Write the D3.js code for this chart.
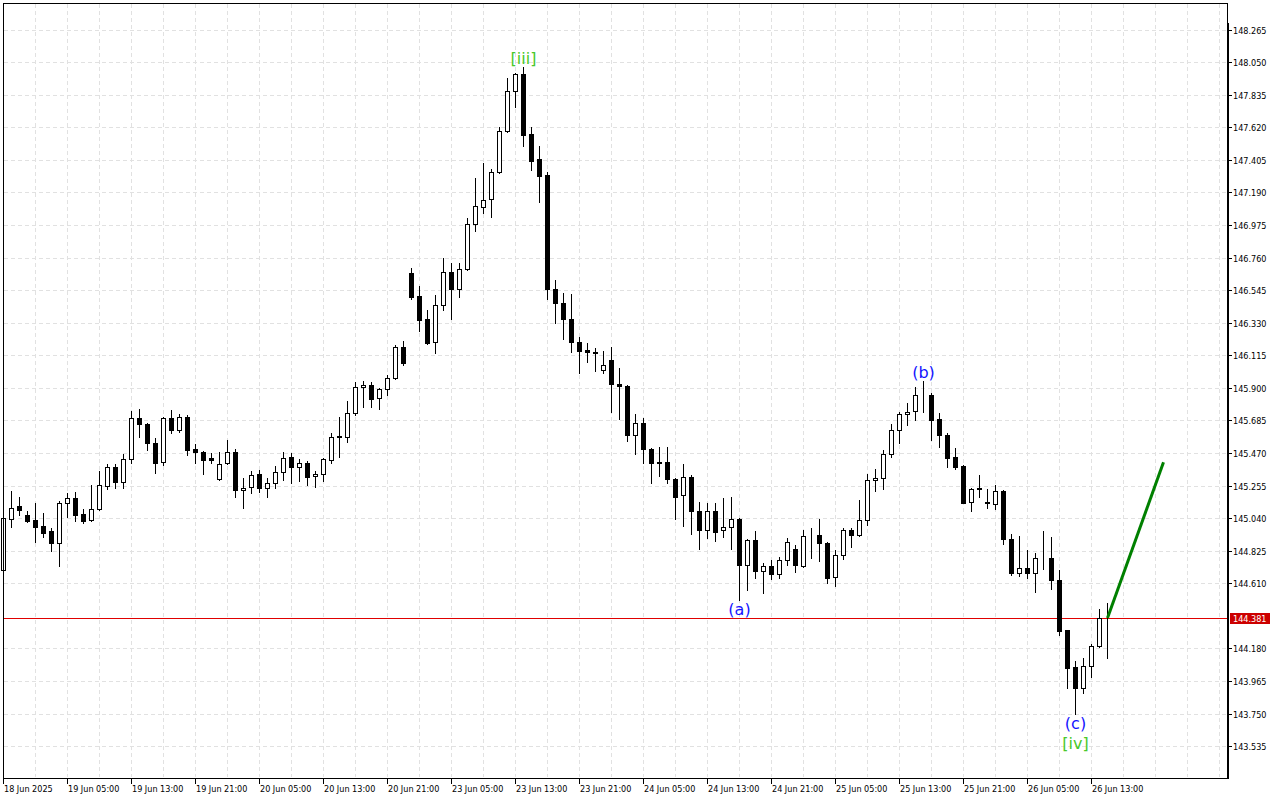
<!DOCTYPE html>
<html>
<head>
<meta charset="utf-8">
<script src="https://cdn.jsdelivr.net/npm/d3@7"></script>
<style>
  body { margin: 0; background: #fff; }
  svg { display: block; }
</style>
</head>
<body>
<script>
// hourly candles, one entry per bar (index 0 = leftmost bar)
var opens = [144.698,145.033,145.118,145.059,145.028,144.988,144.955,144.874,145.138,145.171,
  145.068,145.026,145.099,145.252,145.376,145.277,145.429,145.699,145.662,145.534,
  145.413,145.699,145.624,145.708,145.497,145.477,145.437,145.297,145.402,145.477,
  145.224,145.244,145.330,145.237,145.270,145.343,145.442,145.376,145.404,145.316,
  145.330,145.424,145.578,145.578,145.732,145.904,145.917,145.833,145.891,145.963,
  146.168,146.656,146.506,146.353,146.201,146.445,146.663,146.551,146.687,146.980,
  147.092,147.149,147.323,147.593,147.857,147.970,147.574,147.411,147.305,146.553,
  146.458,146.353,146.201,146.148,146.137,146.016,146.082,145.924,145.910,145.591,
  145.666,145.495,145.411,145.409,145.299,145.191,145.310,145.085,144.962,145.085,
  144.962,144.980,145.033,144.729,144.894,144.693,144.722,144.674,144.762,144.835,
  144.722,144.920,144.931,144.874,144.650,144.795,144.960,144.927,145.026,145.290,
  145.303,145.466,145.620,145.726,145.745,145.853,145.855,145.693,145.589,145.443,
  145.384,145.145,145.237,145.149,145.132,145.219,144.903,144.680,144.709,144.680,
  144.775,144.778,144.632,144.302,144.060,143.917,144.064,144.196,144.379];
var highs = [145.061,145.219,145.180,145.087,145.140,145.074,144.973,145.153,145.204,145.213,
  145.099,145.259,145.351,145.398,145.398,145.464,145.747,145.761,145.670,145.567,
  145.706,145.754,145.726,145.721,145.528,145.483,145.472,145.477,145.556,145.495,
  145.303,145.351,145.358,145.307,145.384,145.477,145.470,145.429,145.419,145.349,
  145.437,145.602,145.710,145.813,145.939,145.943,145.939,145.901,145.985,146.181,
  146.209,146.691,146.572,146.414,146.511,146.757,146.726,146.722,147.019,147.285,
  147.382,147.343,147.620,147.943,147.976,148.016,147.620,147.496,147.323,146.612,
  146.526,146.520,146.234,146.194,146.161,146.143,146.168,146.029,145.921,145.728,
  145.701,145.503,145.508,145.510,145.303,145.398,145.325,145.147,145.138,145.138,
  145.171,145.178,145.040,144.900,144.955,144.742,144.762,144.784,144.907,144.865,
  144.960,144.973,145.033,144.885,144.830,144.977,144.977,145.160,145.332,145.365,
  145.490,145.664,145.743,145.798,145.908,145.943,145.864,145.732,145.600,145.501,
  145.391,145.237,145.325,145.231,145.257,145.225,144.936,144.924,144.830,144.812,
  144.955,144.918,144.698,144.302,144.097,144.115,144.210,144.443,144.482];
var lows = [144.685,144.984,145.063,145.013,144.885,144.918,144.823,144.726,145.050,145.023,
  145.010,145.019,145.094,145.231,145.241,145.241,145.402,145.578,145.490,145.340,
  145.391,145.600,145.611,145.457,145.406,145.332,145.402,145.292,145.398,145.182,
  145.109,145.208,145.213,145.182,145.237,145.292,145.274,145.283,145.257,145.244,
  145.285,145.406,145.442,145.545,145.723,145.776,145.776,145.763,145.851,145.957,
  146.051,146.485,146.277,146.190,146.132,146.414,146.357,146.502,146.680,146.937,
  147.056,147.030,147.316,147.590,147.756,147.496,147.338,147.129,146.485,146.326,
  146.221,146.139,146.000,146.073,146.013,146.000,145.743,145.693,145.551,145.466,
  145.406,145.274,145.320,145.274,145.037,144.988,144.936,144.839,144.907,144.891,
  144.914,144.839,144.500,144.566,144.648,144.548,144.641,144.647,144.729,144.685,
  144.720,144.779,144.759,144.614,144.594,144.773,144.852,144.920,144.997,145.221,
  145.231,145.446,145.538,145.657,145.688,145.743,145.556,145.512,145.380,145.363,
  145.138,145.089,145.182,145.105,145.099,144.868,144.665,144.658,144.647,144.555,
  144.703,144.573,144.269,143.921,143.746,143.888,143.994,144.190,144.119];
var closes = [145.041,145.105,145.096,145.023,144.984,144.944,144.874,145.138,145.171,145.063,
  145.023,145.099,145.259,145.376,145.277,145.429,145.699,145.660,145.534,145.406,
  145.699,145.624,145.706,145.492,145.479,145.426,145.426,145.396,145.475,145.224,
  145.239,145.323,145.237,145.270,145.343,145.435,145.376,145.402,145.314,145.330,
  145.429,145.578,145.582,145.732,145.906,145.917,145.829,145.893,145.963,146.168,
  146.062,146.502,146.348,146.198,146.445,146.663,146.551,146.687,146.980,147.098,
  147.142,147.323,147.593,147.857,147.970,147.571,147.399,147.300,146.551,146.458,
  146.353,146.201,146.145,146.135,146.132,146.049,145.924,145.910,145.591,145.666,
  145.495,145.406,145.406,145.297,145.182,145.310,145.085,144.962,145.085,144.951,
  144.980,145.037,144.729,144.894,144.693,144.722,144.674,144.762,144.881,144.729,
  144.920,144.922,144.874,144.647,144.795,144.960,144.927,145.026,145.290,145.303,
  145.466,145.620,145.728,145.739,145.853,145.855,145.688,145.587,145.439,145.380,
  145.142,145.231,145.231,145.142,145.219,144.903,144.680,144.709,144.680,144.775,
  144.778,144.632,144.297,144.053,143.917,144.064,144.196,144.379,144.381];

var lastPrice = 144.381;

var priceTicks = [148.265,148.050,147.835,147.620,147.405,147.190,146.975,146.760,146.545,146.330,
  146.115,145.900,145.685,145.470,145.255,145.040,144.825,144.610,144.180,143.965,143.750,143.535];

var timeTickBars = [0,8,16,24,32,40,48,56,64,72,80,88,96,104,112,120,128,136];
var timeTickLabels = ["18 Jun 2025","19 Jun 05:00","19 Jun 13:00","19 Jun 21:00","20 Jun 05:00",
  "20 Jun 13:00","20 Jun 21:00","23 Jun 05:00","23 Jun 13:00","23 Jun 21:00","24 Jun 05:00",
  "24 Jun 13:00","24 Jun 21:00","25 Jun 05:00","25 Jun 13:00","25 Jun 21:00","26 Jun 05:00",
  "26 Jun 13:00"];

// wave marks
var waveTexts = ["[iii]", "(a)", "(b)", "(c)", "[iv]"];
var waveBars = [65, 92, 115, 134, 134];
var waveAt = ["high", "low", "high", "low", "low"];

// forecast line
var projBars = [138, 145];
var projPrices = [144.381, 145.409];

var width = 1280, height = 800;
var plotL = 3, plotT = 3, plotR = 1227, plotB = 778;

var svg = d3.select("body").append("svg")
    .attr("width", width)
    .attr("height", height)
    .style("font-family", "'DejaVu Sans Condensed', 'Liberation Sans Narrow', 'DejaVu Sans', sans-serif");

var x = d3.scaleLinear().domain([0, 153]).range([plotL, plotR]);
var y = d3.scaleLinear().domain([143.535, 148.265]).range([746.2, 29.6]);

var px = v => Math.round(v) + 0.5;

svg.append("defs").append("clipPath").attr("id", "plot")
  .append("rect").attr("x", 0).attr("y", plotT).attr("width", plotR).attr("height", plotB - plotT);

//GRID
var grid = svg.append("g")
    .attr("stroke", "#e1e1e1")
    .attr("stroke-dasharray", "4,3");
grid.selectAll("line.h").data(priceTicks).enter().append("line")
    .attr("x1", plotL + 1).attr("x2", plotR - 1)
    .attr("y1", d => px(y(d))).attr("y2", d => px(y(d)));
grid.selectAll("line.v").data(d3.range(4, 153, 4)).enter().append("line")
    .attr("x1", d => px(x(d))).attr("x2", d => px(x(d)))
    .attr("y1", plotT + 1).attr("y2", plotB - 1);

var plot = svg.append("g").attr("clip-path", "url(#plot)");

// current price line
plot.append("line")
    .attr("x1", plotL).attr("x2", plotR)
    .attr("y1", px(y(lastPrice))).attr("y2", px(y(lastPrice)))
    .attr("stroke", "#e00000");

//CANDLES
var idx = d3.range(opens.length);
plot.append("g").selectAll("line").data(idx).enter().append("line")
    .attr("x1", i => x(i) + 0.5).attr("x2", i => x(i) + 0.5)
    .attr("y1", i => Math.round(y(highs[i])))
    .attr("y2", i => Math.round(y(lows[i])) + 1)
    .attr("stroke", "#000");

plot.append("g").selectAll("rect").data(idx).enter().append("rect")
    .each(function(i) {
      var top = Math.round(y(Math.max(opens[i], closes[i])));
      var bot = Math.round(y(Math.min(opens[i], closes[i])));
      var r = d3.select(this);
      if (closes[i] >= opens[i]) {
        r.attr("x", x(i) - 1.5).attr("width", 4)
         .attr("y", top + 0.5).attr("height", bot - top)
         .attr("fill", "#fff").attr("stroke", "#000");
      } else {
        r.attr("x", x(i) - 2).attr("width", 5)
         .attr("y", top).attr("height", Math.max(1, bot - top + 1))
         .attr("fill", "#000");
      }
    });

// forecast
plot.append("path")
    .datum(d3.zip(projBars, projPrices))
    .attr("d", d3.line().x(d => x(d[0]) + 0.5).y(d => y(d[1])))
    .attr("stroke", "#008000")
    .attr("stroke-width", 3)
    .attr("fill", "none");

// wave labels
svg.append("g").selectAll("text").data(waveTexts).enter().append("text")
    .text(d => d)
    .attr("x", (d, i) => x(waveBars[i]) + 0.5)
    .attr("y", (d, i) => waveAt[i] == "high" ? y(highs[waveBars[i]]) - 3
                                          : y(lows[waveBars[i]]) + (d[0] == "[" ? 35 : 15))
    .attr("text-anchor", "middle")
    .style("font-family", "'DejaVu Sans', sans-serif")
    .style("font-size", "16px")
    .style("fill", d => d[0] == "[" ? "#48c82a" : "#1414ff");

//FRAME
svg.append("rect")
    .attr("x", plotL + 0.5).attr("y", plotT + 0.5)
    .attr("width", plotR - plotL).attr("height", plotB - plotT)
    .attr("fill", "none").attr("stroke", "#000");
svg.append("rect")
    .attr("x", plotR).attr("y", 23).attr("width", 2).attr("height", plotB - 22)
    .attr("fill", "#000");

//PRICE AXIS
var pa = svg.append("g");
pa.selectAll("line").data(priceTicks).enter().append("line")
    .attr("x1", plotR + 2).attr("x2", plotR + 5)
    .attr("y1", d => px(y(d))).attr("y2", d => px(y(d)))
    .attr("stroke", "#000");
pa.selectAll("text").data(priceTicks).enter().append("text")
    .text(d => d.toFixed(3))
    .attr("x", plotR + 6)
    .attr("y", d => px(y(d)))
    .attr("dy", "0.35em")
    .style("font-size", "9px")
    .style("fill", "#000");

pa.append("rect")
    .attr("x", plotR + 3).attr("y", Math.round(y(lastPrice)) - 5)
    .attr("width", 40).attr("height", 11)
    .attr("fill", "#cc0000");
pa.append("text")
    .text(lastPrice.toFixed(3))
    .attr("x", plotR + 6)
    .attr("y", px(y(lastPrice)))
    .attr("dy", "0.35em")
    .style("font-size", "9px")
    .style("fill", "#fff");

//TIME AXIS
var ta = svg.append("g");
ta.selectAll("line").data(timeTickBars).enter().append("line")
    .attr("x1", d => x(d) + 0.5).attr("x2", d => x(d) + 0.5)
    .attr("y1", plotB + 1).attr("y2", plotB + 6)
    .attr("stroke", "#000");
ta.selectAll("text").data(timeTickLabels).enter().append("text")
    .text(d => d)
    .attr("x", (d, i) => x(timeTickBars[i]) + 1)
    .attr("y", 792)
    .style("font-size", "9px")
    .style("fill", "#000");
</script>
</body>
</html>
